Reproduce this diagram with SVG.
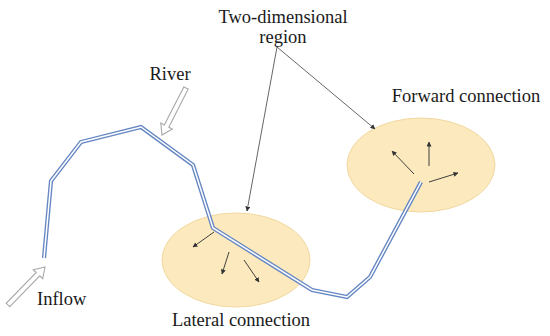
<svg xmlns="http://www.w3.org/2000/svg" width="550" height="336" viewBox="0 0 550 336">
<defs>
<style>
.t{font-size:18.5px;fill:#1a1a1a}
.reg{fill:#fce9bd;stroke:#f1d89f;stroke-width:1}
.riv1{fill:none;stroke:#6486c2;stroke-width:4.2;stroke-linejoin:miter}
.riv2{fill:none;stroke:#ffffff;stroke-width:1.5;stroke-linejoin:miter}
.hol{fill:#ffffff;stroke:#a8a8a8;stroke-width:1.1;stroke-linejoin:miter}
.ptr{stroke:#555555;stroke-width:0.9;fill:none}
.flow{stroke:#404040;stroke-width:1;fill:none}
</style>
<marker id="ah" viewBox="0 0 10 10" refX="9" refY="5" markerWidth="5" markerHeight="5" orient="auto" markerUnits="userSpaceOnUse">
<path d="M0,0 L10,5 L0,10 z" fill="#333333"/>
</marker>
</defs>
<rect width="550" height="336" fill="#ffffff"/>
<g id="lateral-region">
<ellipse class="reg" cx="236" cy="260" rx="74" ry="47"/>
</g>
<g id="forward-region">
<ellipse class="reg" cx="421" cy="165" rx="74" ry="47"/>
</g>
<g id="river">
<polyline class="riv1" points="44,258 51,181 81,142 141,127 193,165 213,228 312,290 347,297 370,277 421,182"/>
<polyline class="riv2" points="44,258 51,181 81,142 141,127 193,165 213,228 312,290 347,297 370,277 421,182"/>
</g>
<g id="river-arrow">
<polygon class="hol" points="188.2,89.1 168.8,127.2 172.3,129.1 162,135 160.8,123.1 164.3,125 183.8,86.9"/>
</g>
<g id="inflow-arrow">
<polygon class="hol" points="9.8,306.7 39.8,275.9 42.7,278.7 45,267 33.3,269.7 36.2,272.5 6.2,303.3"/>
</g>
<g id="connectors">
<line class="ptr" x1="277" y1="47" x2="247" y2="211" marker-end="url(#ah)"/>
<line class="ptr" x1="277" y1="47" x2="375" y2="129" marker-end="url(#ah)"/>
<line class="flow" x1="214" y1="232" x2="193" y2="247" marker-end="url(#ah)"/>
<line class="flow" x1="229" y1="252" x2="222" y2="274" marker-end="url(#ah)"/>
<line class="flow" x1="244" y1="260" x2="259" y2="282" marker-end="url(#ah)"/>
<line class="flow" x1="414" y1="174" x2="392" y2="151" marker-end="url(#ah)"/>
<line class="flow" x1="429" y1="166" x2="429" y2="142" marker-end="url(#ah)"/>
<line class="flow" x1="429" y1="182" x2="458" y2="173" marker-end="url(#ah)"/>
</g>
<g id="labels" font-family="'Liberation Serif', 'Times New Roman', 'DejaVu Serif', serif">
<text class="t" x="283" y="23" text-anchor="middle">Two-dimensional</text>
<text class="t" x="283" y="43" text-anchor="middle">region</text>
<text class="t" x="170" y="80" text-anchor="middle">River</text>
<text class="t" x="466" y="102" text-anchor="middle">Forward connection</text>
<text class="t" x="37" y="305">Inflow</text>
<text class="t" x="241" y="326" text-anchor="middle">Lateral connection</text>
</g>
</svg>
